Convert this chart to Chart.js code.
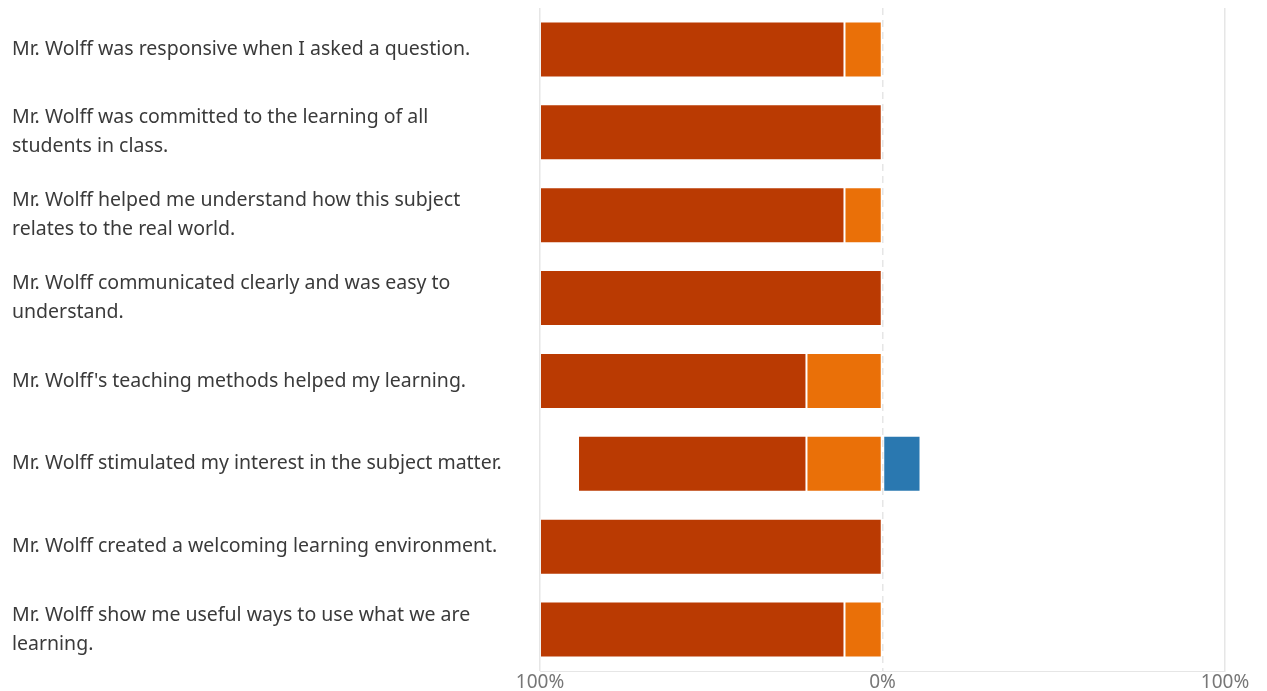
<!DOCTYPE html>
<html>
<head>
<meta charset="utf-8">
<script src="https://cdn.jsdelivr.net/npm/chart.js@4"></script>
<style>
  html, body { margin: 0; padding: 0; background: #fff; }
  #wrap { width: 1267px; height: 691px; }
</style>
</head>
<body>
<div id="wrap"><canvas id="surveyChart"></canvas></div>
<script>
// survey statements (wrapped like the original)
const statements = [
  'Mr. Wolff was responsive when I asked a question.',
  ['Mr. Wolff was committed to the learning of all', 'students in class.'],
  ['Mr. Wolff helped me understand how this subject', 'relates to the real world.'],
  ['Mr. Wolff communicated clearly and was easy to', 'understand.'],
  "Mr. Wolff's teaching methods helped my learning.",
  'Mr. Wolff stimulated my interest in the subject matter.',
  'Mr. Wolff created a welcoming learning environment.',
  ['Mr. Wolff show me useful ways to use what we are', 'learning.']
];

// percent of responses (negative = agree side, drawn left of 0)
const stronglyAgree = [-88.9, -100, -88.9, -100, -77.8, -66.7, -100, -88.9];
const agree = [-11.1, 0, -11.1, 0, -22.2, -22.2, 0, -11.1];
const neutral = [0, 0, 0, 0, 0, 11.1, 0, 0];

const xTicks = [-100, 0, 100];

const ctx = document.getElementById('surveyChart').getContext('2d');
const surveyChart = new Chart(ctx, {
  type: 'bar',
  data: {
    labels: statements,
    datasets: [
      { label: 'Agree', data: agree, backgroundColor: '#EA7008' },
      { label: 'Strongly agree', data: stronglyAgree, backgroundColor: '#BA3A02' },
      { label: 'Neutral', data: neutral, backgroundColor: '#2A78B0' }
    ]
  },
  options: {
    indexAxis: 'y',
    responsive: true,
    maintainAspectRatio: false,
    animation: false,
    datasets: {
      bar: {
        categoryPercentage: 1,
        barPercentage: 0.675,
        borderWidth: 1,
        borderColor: 'rgba(255,255,255,0.1)',
        borderSkipped: false
      }
    },
    layout: { padding: { left: 12, right: 42, top: 8, bottom: 0 } },
    plugins: {
      legend: { display: false },
      tooltip: { enabled: false }
    },
    scales: {
      x: {
        stacked: true,
        min: -100,
        max: 100,
        afterBuildTicks: axis => { axis.ticks = xTicks.map(v => ({ value: v })); },
        afterFit: axis => { axis.height = 20; },
        grid: { color: '#e6e6e6', lineWidth: 1.5, drawTicks: false },
        border: {
          display: true,
          color: '#e6e6e6',
          dash: c => (c.tick && c.tick.value === 0 ? [7, 5] : [])
        },
        ticks: {
          padding: 0,
          color: '#777',
          font: { family: 'Noto Sans', size: 19 },
          callback: v => Math.abs(v) + '%'
        }
      },
      y: {
        stacked: true,
        afterFit: axis => {
          axis.width = 528;
          axis.paddingTop = 0;
          axis.paddingBottom = 0;
        },
        grid: { display: false, drawTicks: false },
        border: { display: false },
        ticks: {
          crossAlign: 'far',
          padding: 0,
          color: '#3a3a3a',
          font: { family: 'Noto Sans', size: 19.5, lineHeight: 1.49 }
        }
      }
    }
  }
});
</script>
</body>
</html>
